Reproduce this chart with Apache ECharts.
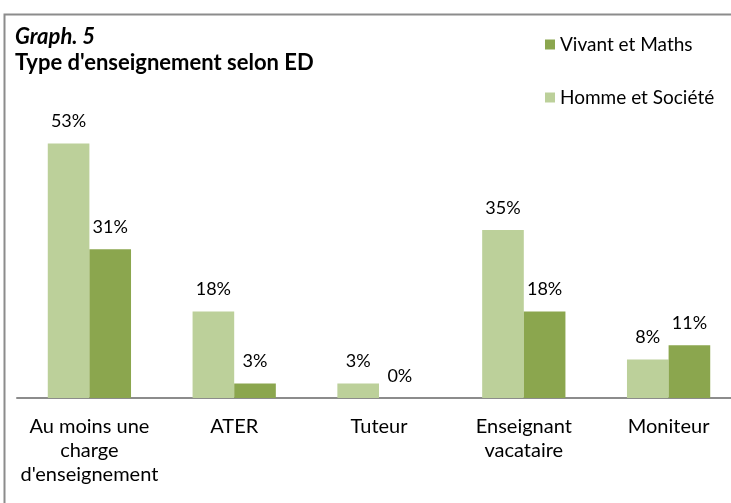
<!DOCTYPE html>
<html>
<head>
<meta charset="utf-8">
<script src="https://cdn.jsdelivr.net/npm/echarts@6/dist/echarts.min.js"></script>
<style>
  html, body { margin: 0; padding: 0; background: #fff; }
  #chart { width: 731px; height: 503px; }
</style>
</head>
<body>
<div id="chart"></div>
<script>
const categories = ['Au moins une\ncharge\nd\'enseignement', 'ATER', 'Tuteur', 'Enseignant\nvacataire', 'Moniteur'];
const hommeSociete = [53, 18, 3, 35, 8];
const vivantMaths = [31, 3, 0, 18, 11];

const chart = echarts.init(document.getElementById('chart'));

const labelStyle = {
  show: true,
  position: 'top',
  distance: 13,
  formatter: '{c}%',
  color: '#000',
  fontFamily: 'Lato',
  fontSize: 18
};

chart.setOption({
  animation: false,
  textStyle: { fontFamily: 'Lato' },
  graphic: [{
    type: 'rect',
    shape: { x: 4.5, y: 14.5, width: 740, height: 500 },
    style: { fill: 'none', stroke: '#8c8c8c', lineWidth: 2 },
    silent: true
  }],
  title: [
    {
      text: 'Graph. 5',
      left: 10, top: 21,
      textStyle: { fontFamily: 'Lato', fontSize: 22, fontWeight: 'bold', fontStyle: 'italic', color: '#000' }
    },
    {
      text: 'Type d\'enseignement selon ED',
      left: 10, top: 47,
      textStyle: { fontFamily: 'Lato', fontSize: 22, fontWeight: 'bold', color: '#000' }
    }
  ],
  legend: {
    orient: 'vertical',
    left: 545, top: 35,
    padding: 0,
    itemWidth: 10, itemHeight: 10,
    itemGap: 34,
    icon: 'rect',
    data: ['Vivant et Maths', 'Homme et Société'],
    textStyle: { fontFamily: 'Lato', fontSize: 19, color: '#000' }
  },
  grid: { left: 17, top: 110, width: 724, bottom: 105, containLabel: false, outerBoundsMode: 'none' },
  xAxis: {
    type: 'category',
    data: categories,
    axisLine: { lineStyle: { color: '#8c8c8c', width: 2 } },
    axisTick: { show: false },
    axisLabel: { color: '#000', fontFamily: 'Lato', fontSize: 20, lineHeight: 24, margin: 17, interval: 0 }
  },
  yAxis: {
    type: 'value',
    min: 0, max: 60,
    show: false
  },
  series: [
    {
      name: 'Homme et Société',
      type: 'bar',
      data: hommeSociete,
      barGap: '0%',
      barCategoryGap: '42.5%',
      itemStyle: { color: '#bcd09a' },
      label: labelStyle
    },
    {
      name: 'Vivant et Maths',
      type: 'bar',
      data: vivantMaths,
      itemStyle: { color: '#8ba64e' },
      label: labelStyle
    }
  ]
});
</script>
</body>
</html>
